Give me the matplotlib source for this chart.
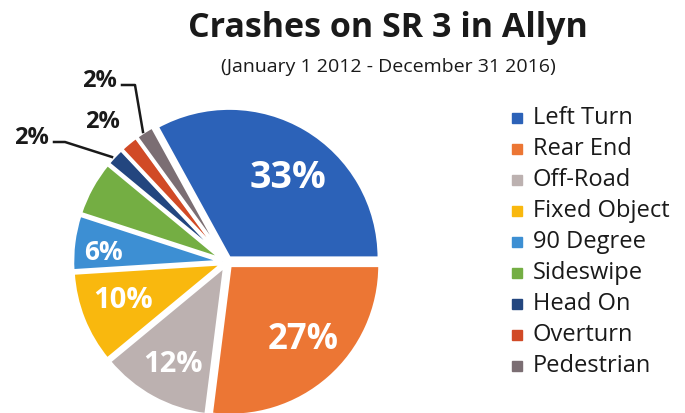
import matplotlib
matplotlib.use('Agg')
import numpy as np
import matplotlib.pyplot as plt
from matplotlib.patches import Rectangle

# crash types and their shares (%)
categories = ["Left Turn", "Rear End", "Off-Road", "Fixed Object", "90 Degree",
              "Sideswipe", "Head On", "Overturn", "Pedestrian"]
shares = [33, 27, 12, 10, 6, 6, 2, 2, 2]
colors = ["#2c62b8", "#ec7634", "#bcb1b0", "#f9b80e", "#3d8fd3",
          "#74ae43", "#23467f", "#d14a26", "#7b6e73"]
# labels shown inside slices (Sideswipe has none)
inner_labels = ["33%", "27%", "12%", "10%", "6%"]
inner_sizes = [27, 25, 21, 21, 19]
# label positions, pixels relative to pie centre (x right, y down)
inner_pos = [(61, -84), (76, 78), (-54, 103), (-104, 39), (-124, -9)]

FONT = "Open Sans"
INK = '#1a1a1a'
W, H = 685, 413
fig = plt.figure(figsize=(W / 100, H / 100), dpi=100)

# pie axes positioned in pixels
scale = 150.0
half = 1.25
cx, cy = 227, H - 262
ax = fig.add_axes([(cx - half * scale) / W, (cy - half * scale) / H,
                   2 * half * scale / W, 2 * half * scale / H])
ax.set_xlim(-half, half)
ax.set_ylim(-half, half)
ax.set_aspect('equal')
ax.axis('off')

startangle = shares[0] / sum(shares) * 360
wedges, _ = ax.pie(shares, colors=colors, startangle=startangle, counterclock=False,
                   explode=[0.03] * len(shares), radius=1.0,
                   wedgeprops=dict(edgecolor='white', linewidth=2.5))


def px(x, y):
    # absolute image pixel (from top-left) -> data coords
    return ((x - cx) / scale, ((H - y) - cy) / scale)


for lab, fs, (dx, dy) in zip(inner_labels, inner_sizes, inner_pos):
    ax.text(dx / scale, -dy / scale, lab, color='white', fontsize=fs,
            fontweight='bold', family=FONT, ha='center', va='center')

# outside labels for the small slices, with leader lines
ax.text(*px(31, 138), "2%", fontsize=17, fontweight='bold', family=FONT,
        ha='center', va='center', color=INK)
ax.plot(*zip(px(54, 142), px(65, 142), px(112, 157)), color=INK, lw=1.8)
ax.text(*px(102, 122), "2%", fontsize=17, fontweight='bold', family=FONT,
        ha='center', va='center', color=INK)
ax.text(*px(99, 81), "2%", fontsize=17, fontweight='bold', family=FONT,
        ha='center', va='center', color=INK)
ax.plot(*zip(px(122, 85), px(135, 85), px(143, 132)), color=INK, lw=1.8)

# title and subtitle
fig.text(388 / W, 1 - 28 / H, "Crashes on SR 3 in Allyn", fontsize=24.5,
         fontweight='bold', family=FONT, ha='center', va='center', color=INK)
fig.text(388 / W, 1 - 67 / H, "(January 1 2012 - December 31 2016)", fontsize=14,
         family=FONT, ha='center', va='center', color=INK)

# legend drawn by hand to mimic the layout
for i, (cat, col) in enumerate(zip(categories, colors)):
    y = 118 + i * 31
    fig.patches.append(Rectangle((512 / W, 1 - (y + 5) / H), 10 / W, 10 / H,
                                 transform=fig.transFigure, color=col))
    fig.text(533 / W, 1 - y / H, cat, fontsize=17, family=FONT,
             ha='left', va='center', color=INK)

fig.savefig("out.png", dpi=100)
